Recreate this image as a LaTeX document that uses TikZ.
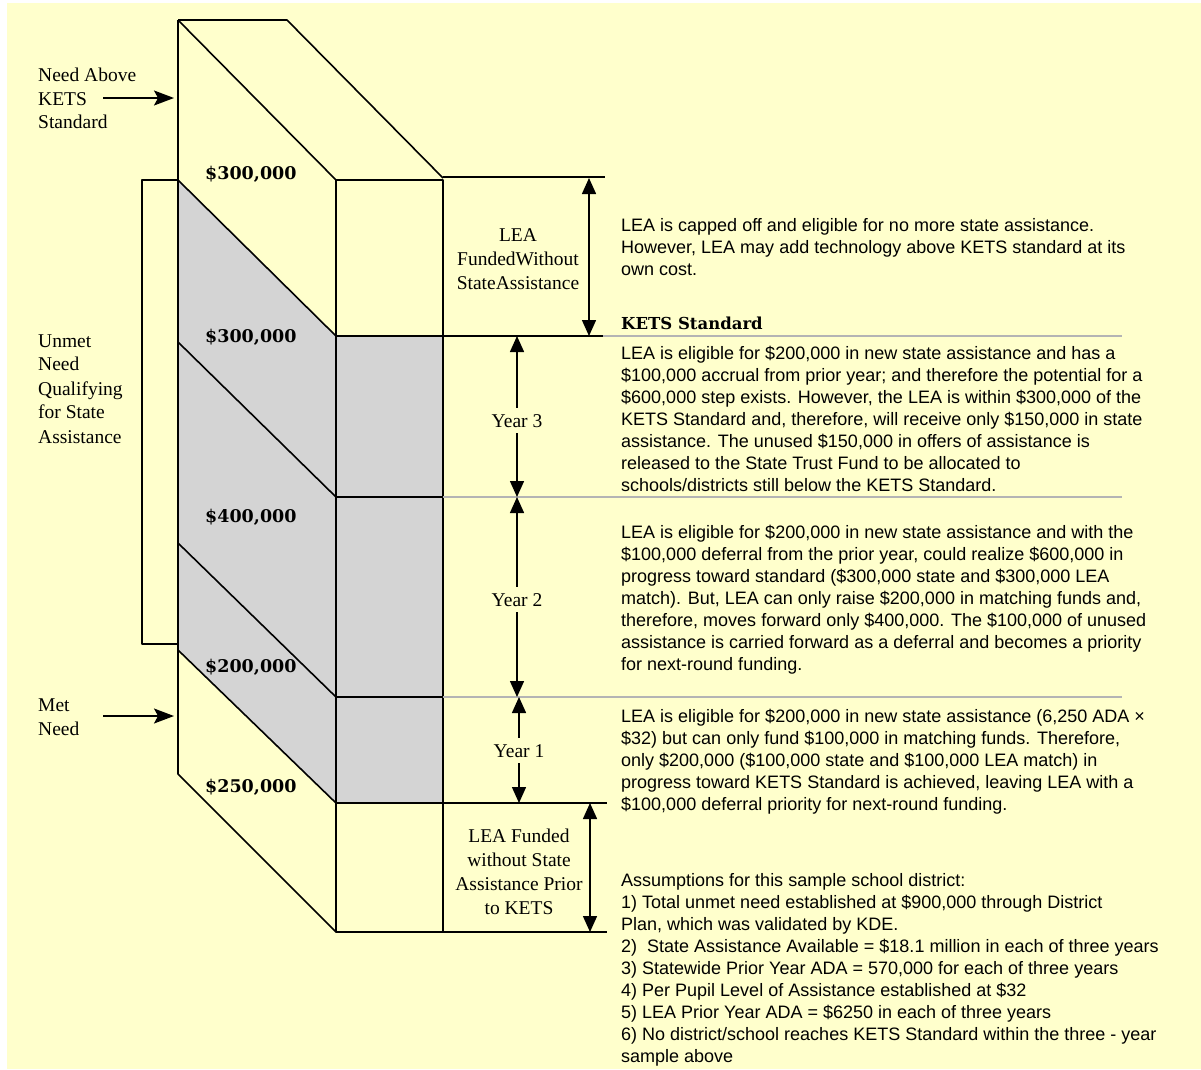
\documentclass[tikz,border=0pt]{standalone}
\usepackage{fontspec}
\setmainfont{Liberation Serif}
\newfontfamily\sansf{Liberation Sans}
\newfontfamily\slabf{DejaVu Serif}
\usetikzlibrary{arrows.meta}
\definecolor{bgy}{RGB}{255,255,204}
\definecolor{stip}{RGB}{212,212,212}
\definecolor{sepc}{RGB}{180,180,180}
\begin{document}
\begin{tikzpicture}[x=1pt,y=-1pt,
  edge/.style={line width=1.6pt, line join=round},
  sepline/.style={line width=1.4pt, sepc},
  lbl/.style={font=\fontsize{19.5}{24}\selectfont, inner sep=0pt, anchor=base west},
  midlbl/.style={font=\fontsize{19.5}{24}\selectfont, inner sep=0pt, anchor=base},
  yearlbl/.style={font=\fontsize{19.5}{24}\selectfont, inner sep=6pt, anchor=base},
  money/.style={font=\slabf\bfseries\fontsize{17.5}{20}\selectfont, inner sep=0pt, anchor=base west},
  body/.style={font=\sansf\fontsize{18}{22}\selectfont, inner sep=0pt, anchor=base west},
  dimarrow/.style={line width=1.5pt, -{Triangle[length=16pt,width=14pt]}},
  dimboth/.style={line width=1.5pt, {Triangle[length=16pt,width=14pt]}-{Triangle[length=16pt,width=14pt]}},
  bigarrow/.style={line width=1.5pt, -{Stealth[length=20pt,width=15pt,inset=4pt]}},
]
\useasboundingbox (0,0) rectangle (1201,1069);
\fill[white] (0,0) rectangle (1201,1069);
\fill[bgy] (7,3) rectangle (1201,1069);

% stippled region
\fill[stip] (178,180) -- (336,336) -- (336,803) -- (178,650) -- cycle;
\fill[stip] (336,336) rectangle (443,803);

% box
\draw[edge] (178,20) -- (287,20) -- (443,178);
\draw[edge] (178,20) -- (336,180);
\draw[edge] (178,20) -- (178,774) -- (336,932);
\draw[edge] (336,180) rectangle (443,932);
\draw[edge] (178,180) -- (336,336);
\draw[edge] (178,342) -- (336,497);
\draw[edge] (178,543) -- (336,697);
\draw[edge] (178,650) -- (336,803);
\draw[edge] (336,336) -- (443,336);
\draw[edge] (336,497) -- (443,497);
\draw[edge] (336,697) -- (443,697);
\draw[edge] (336,803) -- (607,803);
\draw[edge] (336,932) -- (607,932);
\draw[edge] (443,177) -- (605,177);
\draw[edge] (443,336) -- (603,336);
\draw[sepline] (603,336) -- (1122,336);
\draw[sepline] (443,497) -- (1122,497);
\draw[sepline] (443,697) -- (1122,697);

% bracket
\draw[edge] (178,180) -- (142,180) -- (142,644) -- (178,644);

% left labels
\node[lbl] (na1) at (38,81) {Need Above};
\node[lbl] (na2) at (38,105) {KETS};
\node[lbl] (na3) at (38,128) {Standard};
\node[lbl] (un1) at (38,347) {Unmet};
\node[lbl] (un2) at (38,370) {Need};
\node[lbl] (un3) at (38,395) {Qualifying};
\node[lbl] (un4) at (38,418) {for State};
\node[lbl] (un5) at (38,443) {Assistance};
\node[lbl] (mn1) at (38,711) {Met};
\node[lbl] (mn2) at (38,735) {Need};
\coordinate (a1s) at (103,98);
\coordinate (a1e) at (174,98);
\coordinate (a2s) at (103,716);
\coordinate (a2e) at (174,716);
\draw[bigarrow] (a1s) -- (a1e);
\draw[bigarrow] (a2s) -- (a2e);

% money labels
\node[money] (m1) at (205,179) {\$300,000};
\node[money] (m2) at (205,342) {\$300,000};
\node[money] (m3) at (205,522) {\$400,000};
\node[money] (m4) at (205,672) {\$200,000};
\node[money] (m5) at (205,792) {\$250,000};

% middle labels
\node[midlbl] (lf1) at (518,241) {LEA};
\node[midlbl] (lf2) at (518,265) {FundedWithout};
\node[midlbl] (lf3) at (518,289) {StateAssistance};
\node[midlbl] (lp1) at (519,842) {LEA Funded};
\node[midlbl] (lp2) at (519,866) {without State};
\node[midlbl] (lp3) at (519,890) {Assistance Prior};
\node[midlbl] (lp4) at (519,914) {to KETS};

\coordinate (d1t) at (589,178);
\coordinate (d1b) at (589,336);
\draw[dimboth] (d1t) -- (d1b);
\coordinate (d2t) at (590,803);
\coordinate (d2b) at (590,932);
\draw[dimboth] (d2t) -- (d2b);

\node[yearlbl] (y3) at (517,427) {Year 3};
\node[yearlbl] (y2) at (517,606) {Year 2};
\node[yearlbl] (y1) at (519,757) {Year 1};
\coordinate (y3t) at (517,336);
\coordinate (y3b) at (517,497);
\coordinate (y2t) at (517,497);
\coordinate (y2b) at (517,697);
\coordinate (y1t) at (519,697);
\coordinate (y1b) at (519,803);
\draw[dimarrow] (y3.north) -- (y3t);
\draw[dimarrow] (y3.south) -- (y3b);
\draw[dimarrow] (y2.north) -- (y2t);
\draw[dimarrow] (y2.south) -- (y2b);
\draw[dimarrow] (y1.north) -- (y1t);
\draw[dimarrow] (y1.south) -- (y1b);

% right texts
\foreach \t [count=\i] in {
  {LEA is capped off and eligible for no more state assistance.},
  {However, LEA may add technology above KETS standard at its},
  {own cost.}}
  \node[body] (pa-\i) at (621,231+22*\i-22) {\t};

\node[font=\slabf\bfseries\fontsize{16.5}{20}\selectfont, inner sep=0pt, anchor=base west] (kets) at (621,329) {KETS Standard};

\foreach \t [count=\i] in {
  {LEA is eligible for \$200,000 in new state assistance and has a},
  {\$100,000 accrual from prior year; and therefore the potential for a},
  {\$600,000 step exists. However, the LEA is within \$300,000 of the},
  {KETS Standard and, therefore, will receive only \$150,000 in state},
  {assistance. The unused \$150,000 in offers of assistance is},
  {released to the State Trust Fund to be allocated to},
  {schools/districts still below the KETS Standard.}}
  \node[body] (pb-\i) at (621,359+22*\i-22) {\t};

\foreach \t [count=\i] in {
  {LEA is eligible for \$200,000 in new state assistance and with the},
  {\$100,000 deferral from the prior year, could realize \$600,000 in},
  {progress toward standard (\$300,000 state and \$300,000 LEA},
  {match). But, LEA can only raise \$200,000 in matching funds and,},
  {therefore, moves forward only \$400,000. The \$100,000 of unused},
  {assistance is carried forward as a deferral and becomes a priority},
  {for next-round funding.}}
  \node[body] (pc-\i) at (621,538+22*\i-22) {\t};

\foreach \t [count=\i] in {
  {LEA is eligible for \$200,000 in new state assistance (6,250 ADA ×},
  {\$32) but can only fund \$100,000 in matching funds. Therefore,},
  {only \$200,000 (\$100,000 state and \$100,000 LEA match) in},
  {progress toward KETS Standard is achieved, leaving LEA with a},
  {\$100,000 deferral priority for next-round funding.}}
  \node[body] (pd-\i) at (621,722+22*\i-22) {\t};

\foreach \t [count=\i] in {
  {Assumptions for this sample school district:},
  {1) Total unmet need established at \$900,000 through District},
  {Plan, which was validated by KDE.},
  {2)\ \ State Assistance Available = \$18.1 million in each of three years},
  {3) Statewide Prior Year ADA = 570,000 for each of three years},
  {4) Per Pupil Level of Assistance established at \$32},
  {5) LEA Prior Year ADA = \$6250 in each of three years},
  {6) No district/school reaches KETS Standard within the three - year},
  {sample above}}
  \node[body] (pe-\i) at (621,886+22*\i-22) {\t};
\end{tikzpicture}
\end{document}
